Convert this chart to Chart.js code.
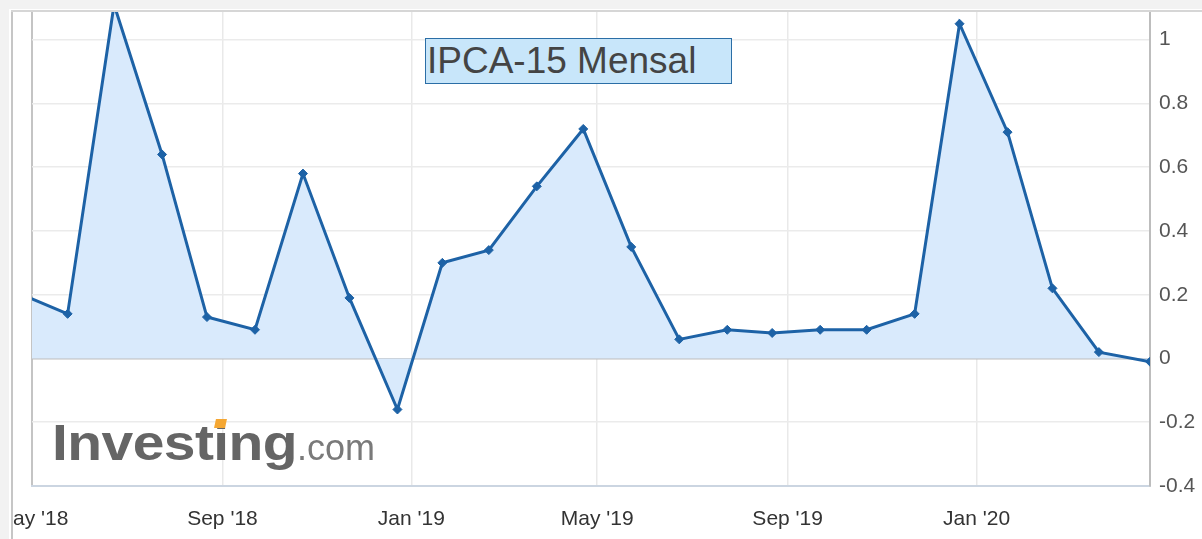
<!DOCTYPE html>
<html>
<head>
<meta charset="utf-8">
<title>IPCA-15 Mensal</title>
<script src="https://cdn.jsdelivr.net/npm/chart.js@4.4.1/dist/chart.umd.min.js"></script>
<style>
    html, body { margin: 0; padding: 0; background: #ffffff; }
    #wrap { position: relative; width: 1202px; height: 539px; overflow: hidden; }
    #wrap canvas { position: absolute; left: 0; top: 0; }
    .deco { position: absolute; pointer-events: none; }
    .title {
        left: 425px; top: 38px; width: 307px; height: 46px;
        box-sizing: border-box;
        border: 1.5px solid #2b6ea6;
        background: #c8e6fa;
        font: 37px "Liberation Sans", Arial, sans-serif;
        color: #444;
        line-height: 43px;
        padding-left: 1px;
        white-space: nowrap;
    }
    .brand {
        left: 52px; top: 418px;
        font: bold 50px "Liberation Sans", Arial, sans-serif;
        line-height: 1;
        color: #656565;
        transform: scaleX(1.14);
        transform-origin: left top;
        letter-spacing: -0.5px;
    }
    .brand-com {
        left: 297px; top: 430px;
        font: 36px "Liberation Sans", Arial, sans-serif;
        line-height: 1;
        color: #7a7a7a;
    }
</style>
</head>
<body>
<div id="wrap">
    <canvas id="ipcaChart"></canvas>
    <div class="deco brand">Investing</div>
    <div class="deco brand-com">.com</div>
    <div class="deco" style="left:215px;top:419px;width:11px;height:9px;background:#f5a733;transform:skewX(-12deg)"></div>
    <div class="deco title">IPCA-15 Mensal</div>
    <!-- outer frame -->
    <div class="deco" style="left:0;top:0;width:9px;height:539px;background:#f2f2f2"></div>
    <div class="deco" style="left:0;top:0;width:1202px;height:9px;background:#f2f2f2"></div>
    <div class="deco" style="left:9px;top:9px;width:2px;height:530px;background:#ffffff"></div>
    <div class="deco" style="left:11px;top:10px;width:2px;height:529px;background:#c6c6c6"></div>
    <div class="deco" style="left:11px;top:10px;width:1191px;height:2px;background:#d6d6d6"></div>
</div>

<script>
/* ---------- DATA ---------- */

const releaseDates = [
    "2018-04-20", "2018-05-24", "2018-06-23", "2018-07-24", "2018-08-22",
    "2018-09-22", "2018-10-23", "2018-11-22", "2018-12-23", "2019-01-21",
    "2019-02-20", "2019-03-23", "2019-04-22", "2019-05-23", "2019-06-23",
    "2019-07-24", "2019-08-22", "2019-09-22", "2019-10-22", "2019-11-22",
    "2019-12-21", "2020-01-21", "2020-02-19", "2020-03-20", "2020-04-22"
];
const ipcaValues = [
    0.21, 0.14, 1.11, 0.64, 0.13,
    0.09, 0.58, 0.19, -0.16, 0.30,
    0.34, 0.54, 0.72, 0.35, 0.06,
    0.09, 0.08, 0.09, 0.09, 0.14,
    1.05, 0.71, 0.22, 0.02, -0.01
];
const xTickDates = ["2018-05-01", "2018-09-01", "2019-01-01", "2019-05-01", "2019-09-01", "2020-01-01"];
const xTickLabels = ["May '18", "Sep '18", "Jan '19", "May '19", "Sep '19", "Jan '20"];
const yTicks = [-0.4, -0.2, 0, 0.2, 0.4, 0.6, 0.8, 1];
const xRange = ["2018-05-01", "2020-04-22"];
const yRange = [-0.4, 1.09];

/* ---------- HELPERS ---------- */

function dayNum(d) {
    return Date.parse(d + "T00:00:00Z") / 86400000;
}

// keep tick labels from pushing the plot area inward
function noPadding(scale) {
    scale.paddingLeft = 0;
    scale.paddingRight = 0;
    scale.paddingTop = 0;
    scale.paddingBottom = 0;
}

const lineColor = "#1d62a6";
const fontFamily = "'Liberation Sans', Arial, sans-serif";

/* ---------- CHART ---------- */

function renderChart() {
    const ctx = document.getElementById("ipcaChart").getContext("2d");

    new Chart(ctx, {
        type: "line",
        data: {
            datasets: [{
                data: releaseDates.map((d, i) => ({ x: dayNum(d), y: ipcaValues[i] })),
                borderColor: lineColor,
                borderWidth: 3,
                backgroundColor: "#d9eafc",
                fill: "origin",
                tension: 0,
                clip: 0,
                pointStyle: "rectRot",
                pointRadius: 4.5,
                pointBorderWidth: 1,
                pointBackgroundColor: lineColor,
                pointBorderColor: lineColor
            }]
        },
        options: {
            responsive: true,
            maintainAspectRatio: false,
            animation: false,
            devicePixelRatio: 1,
            layout: {
                autoPadding: false,
                padding: { left: 32, top: 11, right: 0, bottom: 0 }
            },
            plugins: {
                legend: { display: false },
                tooltip: { enabled: false }
            },
            scales: {
                x: {
                    type: "linear",
                    min: dayNum(xRange[0]),
                    max: dayNum(xRange[1]),
                    afterBuildTicks: scale => {
                        scale.ticks = xTickDates.map(d => ({ value: dayNum(d) }));
                    },
                    afterFit: scale => {
                        scale.height = 53;
                        noPadding(scale);
                    },
                    grid: {
                        drawTicks: false,
                        color: c => c.index === 0 ? "#c4c4c4" : "#e9e9e9",
                        lineWidth: c => c.index === 0 ? 2 : 1.5
                    },
                    border: { display: true, color: "#cbd5e1", width: 2 },
                    ticks: {
                        padding: 21,
                        maxRotation: 0,
                        autoSkip: false,
                        color: "#333",
                        font: { family: fontFamily, size: 21 },
                        callback: (v, i) => xTickLabels[i]
                    }
                },
                y: {
                    position: "right",
                    min: yRange[0],
                    max: yRange[1],
                    afterBuildTicks: scale => {
                        scale.ticks = yTicks.map(v => ({ value: v }));
                    },
                    afterFit: scale => {
                        scale.width = 52;
                        noPadding(scale);
                    },
                    grid: {
                        drawTicks: false,
                        color: c => c.tick && c.tick.value === 0 ? "#bdbdbd" : "#ebebeb",
                        lineWidth: 1.5
                    },
                    border: { display: true, color: "#bdbdbd", width: 2 },
                    ticks: {
                        padding: 9,
                        color: "#555",
                        font: { family: fontFamily, size: 21 },
                        callback: v => String(v)
                    }
                }
            }
        }
    });
}

/* ---------- INIT ---------- */

renderChart();
</script>
</body>
</html>
